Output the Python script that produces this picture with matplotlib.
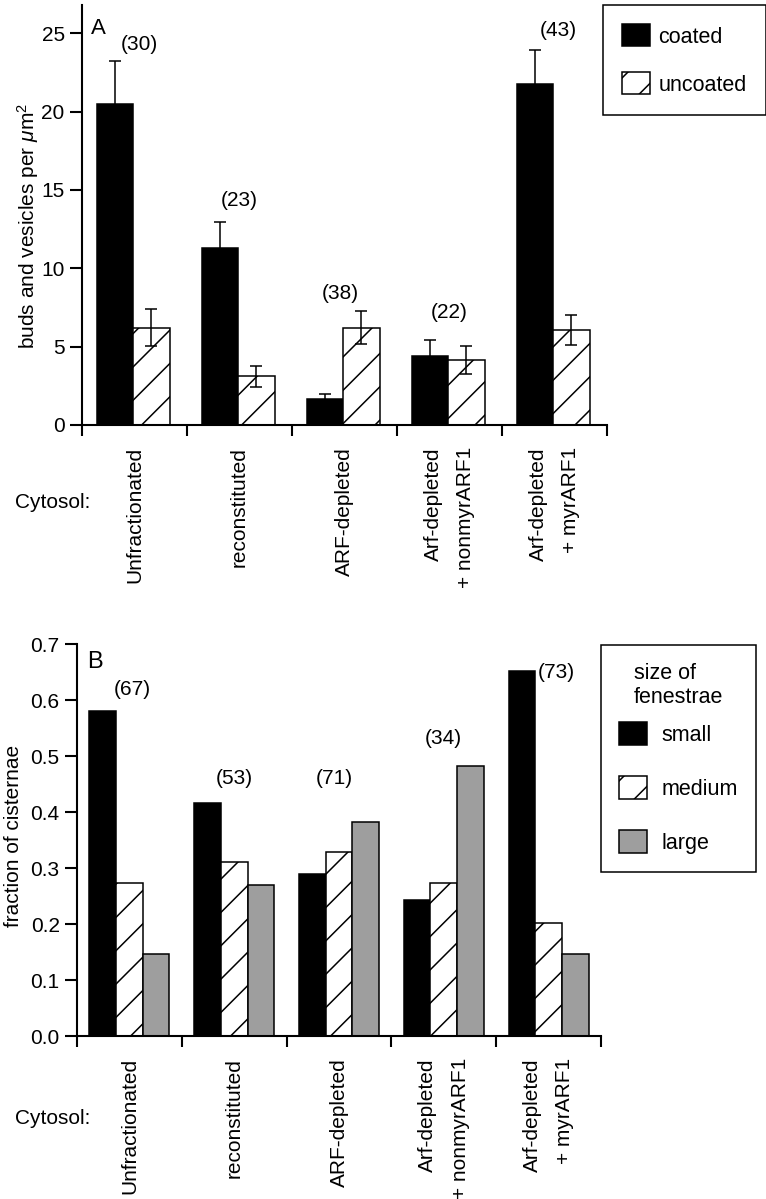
import numpy as np
import matplotlib
matplotlib.use('Agg')
import matplotlib.pyplot as plt

# ---------- fonts ----------
plt.rcParams['font.family'] = ['Liberation Sans', 'DejaVu Sans']
plt.rcParams['mathtext.fontset'] = 'custom'
plt.rcParams['mathtext.rm'] = 'Liberation Sans'
plt.rcParams['mathtext.it'] = 'Liberation Sans:italic'
plt.rcParams['hatch.linewidth'] = 1.1

# ---------- data ----------
CATEGORIES = ['Unfractionated', 'reconstituted', 'ARF-depleted',
              'Arf-depleted\n+ nonmyrARF1', 'Arf-depleted\n+ myrARF1']

# panel A: buds and vesicles per um2
COATED = [20.5, 11.3, 1.65, 4.4, 21.75]
COATED_ERR = [2.75, 1.66, 0.32, 1.0, 2.17]
UNCOATED = [6.2, 3.1, 6.2, 4.15, 6.05]
UNCOATED_ERR = [1.18, 0.68, 1.05, 0.92, 0.95]
N_A = ['(30)', '(23)', '(38)', '(22)', '(43)']
N_A_Y = [24.3, 14.35, 8.4, 7.2, 25.2]
N_A_DX = [0.05, 0.0, -0.04, 0.0, 0.04]

# panel B: fraction of cisternae by fenestra size
SMALL = [0.581, 0.416, 0.289, 0.243, 0.651]
MEDIUM = [0.273, 0.311, 0.328, 0.273, 0.201]
LARGE = [0.146, 0.270, 0.383, 0.483, 0.146]
N_B = ['(67)', '(53)', '(71)', '(34)', '(73)']
N_B_Y = [0.618, 0.46, 0.46, 0.532, 0.649]
N_B_DX = [0.03, 0.0, -0.04, 0.0, None]   # None -> put right of the small bar

W, H = 766, 1199
FS = 15
GREY = '#9e9e9e'


def px_box(left, top, right, bottom):
    """pixel box -> figure fraction [l, b, w, h]"""
    return [left / W, 1 - bottom / H, (right - left) / W, (bottom - top) / H]


def style_axes(ax):
    ax.patch.set_visible(False)
    for side in ['top', 'right']:
        ax.spines[side].set_visible(False)
    for side in ['left', 'bottom']:
        ax.spines[side].set_linewidth(1.5)
    ax.set_xlim(-0.5, 4.5)
    ax.set_xticks(np.arange(-0.5, 5, 1))
    ax.set_xticklabels([])
    ax.set_xticks(np.arange(5), minor=True)
    ax.set_xticklabels(CATEGORIES, minor=True, rotation=90, va='top', ha='center',
                       multialignment='right', linespacing=1.9, fontsize=FS)
    ax.tick_params(axis='x', which='major', length=8, width=1.5, direction='out')
    ax.tick_params(axis='x', which='minor', length=0, pad=16)
    ax.tick_params(axis='y', length=9, width=1.5, labelsize=FS, pad=3.5)


fig = plt.figure(figsize=(W / 100, H / 100), dpi=100)
x = np.arange(len(CATEGORIES))

# ---------- panel A ----------
axA = fig.add_axes(px_box(82, 5, 607, 425))
bw = 0.3475
ek = dict(elinewidth=1.1, capthick=1.1, ecolor='black')
bc = axA.bar(x - 0.188, COATED, bw, yerr=COATED_ERR, capsize=4.5, error_kw=ek,
             color='black', edgecolor='black', linewidth=1.1, label='coated')
bu = axA.bar(x + 0.16, UNCOATED, bw, yerr=UNCOATED_ERR, capsize=4.5, error_kw=ek,
             color='white', edgecolor='black', linewidth=1.1, hatch='/', label='uncoated')
axA.set_ylim(0, 26.8)
axA.set_yticks([0, 5, 10, 15, 20, 25])
style_axes(axA)
for i, t in enumerate(N_A):
    axA.text(i + N_A_DX[i], N_A_Y[i], t, ha='center', va='center', fontsize=FS)
legA = axA.legend(handles=[bc, bu], loc='upper left',
                  bbox_to_anchor=(603 / W, 1 - 5 / H), bbox_transform=fig.transFigure,
                  fancybox=False, framealpha=1, edgecolor='black', fontsize=15.5,
                  handlelength=1.26, handleheight=1.2, handletextpad=0.42,
                  labelspacing=1.15, borderpad=0.9, borderaxespad=0)
legA.get_frame().set_linewidth(1.1)

# ---------- panel B ----------
axB = fig.add_axes(px_box(77, 644, 601, 1036))
bw = 0.254
b1 = axB.bar(x - bw, SMALL, bw, color='black', edgecolor='black', linewidth=1.1, label='small')
b2 = axB.bar(x, MEDIUM, bw, color='white', edgecolor='black', linewidth=1.1,
             hatch='/', label='medium')
b3 = axB.bar(x + bw, LARGE, bw, color=GREY, edgecolor='black', linewidth=1.1, label='large')
axB.set_ylim(0, 0.7)
axB.set_yticks(np.arange(0, 0.71, 0.1))
axB.set_yticklabels([f'{v:.1f}' for v in np.arange(0, 0.71, 0.1)])
style_axes(axB)
for i, t in enumerate(N_B):
    if N_B_DX[i] is None:
        axB.text(i - bw / 2 + 0.025, N_B_Y[i], t, ha='left', va='center', fontsize=FS)
    else:
        axB.text(i + N_B_DX[i], N_B_Y[i], t, ha='center', va='center', fontsize=FS)
legB = axB.legend(handles=[b1, b2, b3], title='size of\nfenestrae', loc='upper left',
                  bbox_to_anchor=(601 / W, 1 - 645 / H), bbox_transform=fig.transFigure,
                  fancybox=False, framealpha=1, edgecolor='black', fontsize=15.5,
                  title_fontsize=15.5, handlelength=1.3, handleheight=1.27,
                  handletextpad=0.65, labelspacing=1.4, borderpad=0.85, borderaxespad=0)
legB._legend_box.sep = 10   # tighter gap under the title than between rows
legB.get_frame().set_linewidth(1.1)

# ---------- loose texts ----------
fig.text(28 / W, 1 - 226 / H, 'buds and vesicles per $\\mathit{\\mu}$m$^2$', rotation=90,
         ha='center', va='center', fontsize=FS)
fig.text(14 / W, 1 - 836 / H, 'fraction of cisternae', rotation=90,
         ha='center', va='center', fontsize=FS)
fig.text(98 / W, 1 - 29 / H, 'A', ha='center', va='center', fontsize=16)
fig.text(95 / W, 1 - 662 / H, 'B', ha='center', va='center', fontsize=17)
for yy in [502, 1118]:
    fig.text(53 / W, 1 - yy / H, 'Cytosol:', ha='center', va='center', fontsize=FS)

fig.savefig('out.png', dpi=100, facecolor='white')
